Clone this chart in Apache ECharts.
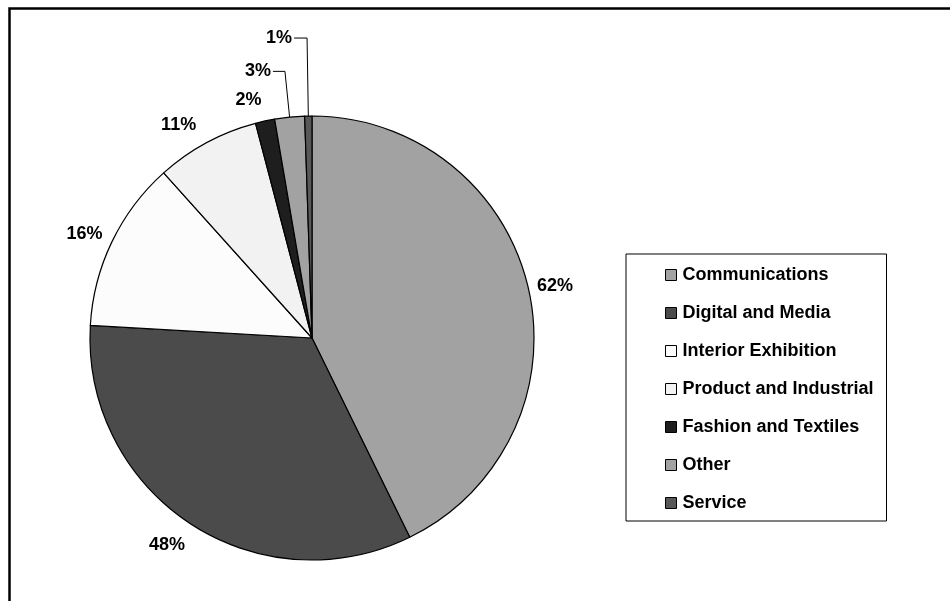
<!DOCTYPE html>
<html>
<head>
<meta charset="utf-8">
<script src="https://cdn.jsdelivr.net/npm/echarts@6/dist/echarts.min.js"></script>
<style>
html,body{margin:0;padding:0;background:#fff;}
#chart{width:950px;height:601px;}
</style>
</head>
<body>
<div id="chart"></div>
<script>
// Data
const categories = ['Communications','Digital and Media','Interior Exhibition','Product and Industrial','Fashion and Textiles','Other','Service'];
const values = [61.1, 47.4, 17.8, 10.8, 2.0, 3.1, 0.75];
const labelTexts = ['62%','48%','16%','11%','2%','3%','1%'];

// Styling (not data)
const colors = ['#a2a2a2','#4b4b4b','#fcfcfc','#f2f2f2','#1e1e1e','#a2a2a2','#585858'];
const labelTweaks = [
  {len: 9,  len2: 0,  dist: 0,  line: false},
  {len: 26, len2: 0,  dist: -10, line: false},
  {len: 17, len2: 0,  dist: -6, line: false},
  {len: 20, len2: 0,  dist: 1,  line: false},
  {len: 21, len2: 0,  dist: -1, line: false},
  {len: 46, len2: 12, dist: 2,  line: true},
  {len: 78, len2: 13, dist: 2,  line: true}
];

const FONT = "'Liberation Sans', Arial, Helvetica, sans-serif";

const seriesData = categories.map((name, i) => ({
  name: name,
  value: values[i],
  itemStyle: {color: colors[i]},
  label: {
    formatter: labelTexts[i],
    distanceToLabelLine: labelTweaks[i].dist
  },
  labelLine: {
    show: labelTweaks[i].line,
    length: labelTweaks[i].len,
    length2: labelTweaks[i].len2,
    lineStyle: {color: '#000', width: 1}
  }
}));

const chart = echarts.init(document.getElementById('chart'), null, {renderer: 'canvas'});
chart.setOption({
  backgroundColor: '#fff',
  animation: false,
  graphic: [{
    type: 'rect',
    shape: {x: 9.5, y: 8.5, width: 1000, height: 700},
    style: {fill: 'none', stroke: '#000', lineWidth: 2.5},
    silent: true,
    z: 100
  }],
  legend: {
    orient: 'vertical',
    left: 626,
    top: 254,
    padding: [12, 13, 9, 39],
    borderColor: '#000',
    borderWidth: 1,
    itemWidth: 11,
    itemHeight: 11,
    itemGap: 20,
    icon: 'rect',
    selectedMode: false,
    itemStyle: {borderColor: '#000', borderWidth: 1},
    textStyle: {
      fontFamily: FONT,
      fontSize: 18,
      fontWeight: 'bold',
      color: '#000',
      lineHeight: 18,
      padding: [0, 0, 0, 1]
    },
    data: categories
  },
  series: [{
    type: 'pie',
    center: [312, 338],
    radius: 222,
    startAngle: 90,
    clockwise: true,
    avoidLabelOverlap: false,
    minShowLabelAngle: 0,
    itemStyle: {borderColor: '#000', borderWidth: 1.2},
    emphasis: {disabled: true},
    label: {
      show: true,
      position: 'outside',
      fontFamily: FONT,
      fontSize: 18,
      fontWeight: 'bold',
      color: '#000'
    },
    data: seriesData
  }]
});
</script>
</body>
</html>
